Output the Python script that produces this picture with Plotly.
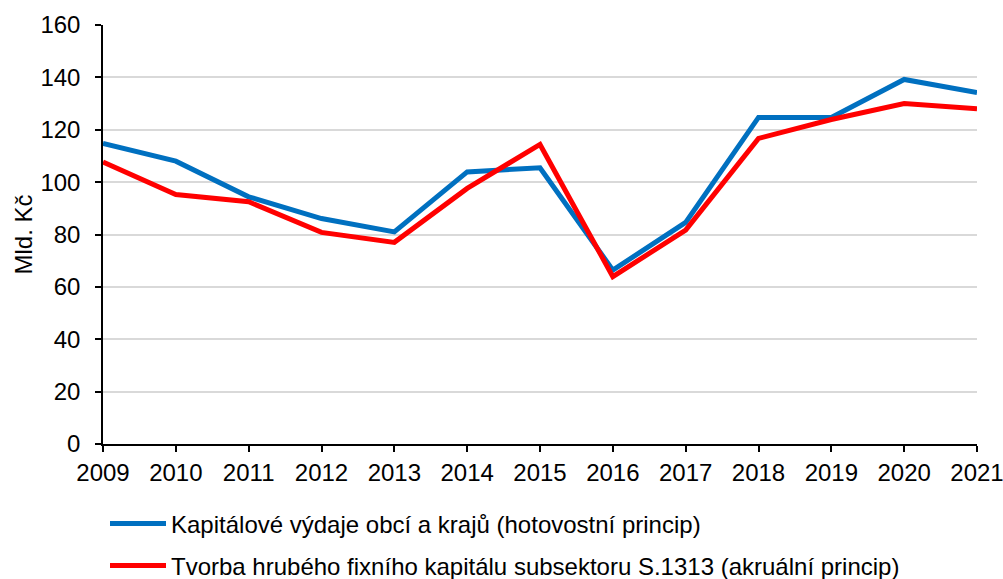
import plotly.graph_objects as go

years = [2009, 2010, 2011, 2012, 2013, 2014, 2015, 2016, 2017, 2018, 2019, 2020, 2021]
kapitalove_vydaje = [114.8, 108.0, 94.4, 86.1, 81.0, 103.9, 105.5, 66.4, 84.6, 124.7, 124.7, 139.2, 134.2]
tvorba_hfk = [107.7, 95.3, 92.5, 80.8, 77.0, 97.6, 114.4, 63.9, 81.7, 116.7, 123.9, 130.0, 128.0]

name_blue = "Kapitálové výdaje obcí a krajů (hotovostní princip)"
name_red = "Tvorba hrubého fixního kapitálu subsektoru S.1313 (akruální princip)"
y_title = "Mld. Kč"

FONT = "Liberation Sans, Arial, sans-serif"
FS = 24
L, R, T, B = 103, 26, 25, 135
PW, PH = 1003 - L - R, 579 - T - B

fig = go.Figure()
fig.add_trace(go.Scatter(x=years, y=kapitalove_vydaje, mode="lines", name=name_blue,
                         line=dict(color="#0070C0", width=5), legend="legend"))
fig.add_trace(go.Scatter(x=years, y=tvorba_hfk, mode="lines", name=name_red,
                         line=dict(color="#FF0000", width=5), legend="legend2"))

fig.update_layout(
    width=1003, height=579,
    margin=dict(l=L, r=R, t=T, b=B, autoexpand=False),
    paper_bgcolor="white", plot_bgcolor="white",
    font=dict(family=FONT, size=FS, color="#000000"),
    showlegend=True,
    legend=dict(x=(105 - L) / PW, y=(579 - B - 524) / PH,
                xanchor="left", yanchor="middle", itemwidth=56,
                font=dict(size=FS), bgcolor="rgba(0,0,0,0)"),
    legend2=dict(x=(105 - L) / PW, y=(579 - B - 566) / PH,
                 xanchor="left", yanchor="middle", itemwidth=56,
                 font=dict(size=FS), bgcolor="rgba(0,0,0,0)"),
    annotations=[dict(text=y_title, xref="paper", yref="paper", x=(23 - L) / PW, y=0.5,
                      xanchor="center", yanchor="middle", textangle=-90, showarrow=False,
                      font=dict(size=FS))],
)
fig.update_xaxes(range=[2009, 2021], tickmode="linear", tick0=2009, dtick=1,
                 showgrid=False, showline=True, linecolor="#000000", linewidth=1.5,
                 ticks="outside", ticklen=6, tickcolor="#000000", tickwidth=1.5,
                 zeroline=False, tickfont=dict(size=FS), automargin=False,
                 ticklabelstandoff=0, ticklabeloverflow="allow")
fig.update_yaxes(range=[0, 160], tickmode="linear", tick0=0, dtick=20,
                 showgrid=True, gridcolor="#D9D9D9", gridwidth=1.5,
                 showline=True, linecolor="#000000", linewidth=1.5,
                 ticks="outside", ticklen=6, tickcolor="#000000", tickwidth=1.5,
                 zeroline=False, tickfont=dict(size=FS), automargin=False,
                 ticklabelstandoff=10)

fig.write_html("out.html", config={"displayModeBar": False},
               post_script="document.body.style.margin='0';document.body.style.overflow='hidden';")
